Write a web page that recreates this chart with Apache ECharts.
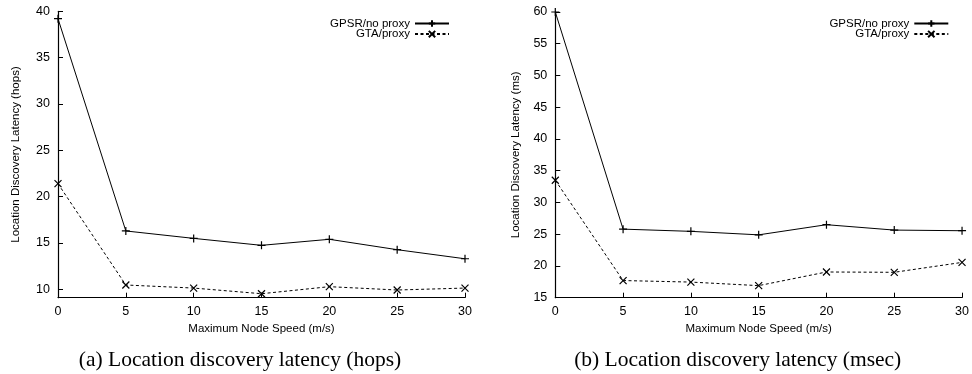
<!DOCTYPE html>
<html>
<head>
<meta charset="utf-8">
<script src="https://cdn.jsdelivr.net/npm/echarts@6/dist/echarts.min.js"></script>
<style>
html,body{margin:0;padding:0;background:#fff;}
#c{width:972px;height:374px;}
</style>
</head>
<body>
<div id="c"></div>
<script>
// Data
const speeds = [0, 5, 10, 15, 20, 25, 30];
const hopsGPSR = [39.2, 16.3, 15.5, 14.75, 15.4, 14.28, 13.3];
const hopsGTA = [21.4, 10.47, 10.14, 9.53, 10.29, 9.93, 10.14];
const msGPSR = [60, 25.8, 25.45, 24.9, 26.5, 25.65, 25.55];
const msGTA = [33.5, 17.7, 17.46, 16.9, 19.05, 19.0, 20.56];
const xTicks = [0, 5, 10, 15, 20, 25, 30];
const yTicksHops = [10, 15, 20, 25, 30, 35, 40];
const yTicksMs = [15, 20, 25, 30, 35, 40, 45, 50, 55, 60];
const seriesNames = ['GPSR/no proxy', 'GTA/proxy'];
const xTitle = 'Maximum Node Speed (m/s)';
const yTitleHops = 'Location Discovery Latency (hops)';
const yTitleMs = 'Location Discovery Latency (ms)';
const captions = ['(a) Location discovery latency (hops)', '(b) Location discovery latency (msec)'];

const FONT = 'Liberation Sans';
const plus = 'path://M0,5L10,5M5,0L5,10';
const cross = 'path://M0,0L10,10M10,0L0,10';

function xAxis(gi) {
  return {
    type: 'value', gridIndex: gi, min: 0, max: 30,
    name: xTitle, nameLocation: 'middle', nameGap: 24,
    nameTextStyle: {fontFamily: FONT, fontSize: 11.5, color: '#000'},
    axisLine: {show: true, lineStyle: {color: '#000', width: 1.2}},
    axisTick: {show: true, inside: true, length: 5, customValues: xTicks, lineStyle: {color: '#000'}},
    axisLabel: {fontFamily: FONT, fontSize: 12.5, color: '#000', margin: 7, customValues: xTicks},
    splitLine: {show: false}
  };
}
function yAxis(gi, min, max, ticks, title, gap) {
  return {
    type: 'value', gridIndex: gi, min: min, max: max,
    name: title, nameLocation: 'middle', nameGap: gap,
    nameTextStyle: {fontFamily: FONT, fontSize: 11.5, color: '#000'},
    axisLine: {show: true, lineStyle: {color: '#000', width: 1.2}},
    axisTick: {show: true, inside: true, length: 5, customValues: ticks, lineStyle: {color: '#000'}},
    axisLabel: {fontFamily: FONT, fontSize: 12.5, color: '#000', margin: 8, customValues: ticks},
    splitLine: {show: false}
  };
}
function pairs(vals) { return speeds.map((s, i) => [s, vals[i]]); }
function line(name, gi, vals, dashed) {
  return {
    name: name, type: 'line', xAxisIndex: gi, yAxisIndex: gi,
    data: pairs(vals),
    symbol: dashed ? cross : plus, symbolSize: dashed ? 7 : 8,
    showSymbol: true,
    lineStyle: {color: '#000', width: 1, type: dashed ? [3, 2.5] : 'solid'},
    itemStyle: {color: '#000', borderColor: '#000', borderWidth: 1.2},
    animation: false
  };
}
function legend(right, top) {
  return {
    orient: 'vertical', align: 'right', right: right, top: top,
    itemWidth: 34, itemHeight: 8, itemGap: -1.4, padding: 0,
    textStyle: {fontFamily: FONT, fontSize: 11.5, color: '#000'},
    data: seriesNames.map(n => ({name: n})),
    selectedMode: false
  };
}

const chart = echarts.init(document.getElementById('c'), null, {renderer: 'canvas'});
chart.setOption({
  backgroundColor: '#fff',
  animation: false,
  grid: [
    {left: 58, right: 507, top: 11.3, bottom: 76.3},
    {left: 555.3, right: 8.7, top: 12, bottom: 76.3}
  ],
  xAxis: [xAxis(0), xAxis(1)],
  yAxis: [yAxis(0, 9.1, 40, yTicksHops, yTitleHops, 36), yAxis(1, 15, 60, yTicksMs, yTitleMs, 33)],
  legend: [legend(522, 17.5), legend(22.7, 17.5)],
  series: [
    line(seriesNames[0], 0, hopsGPSR, false),
    line(seriesNames[1], 0, hopsGTA, true),
    line(seriesNames[0], 1, msGPSR, false),
    line(seriesNames[1], 1, msGTA, true)
  ],
  graphic: [
    {type: 'text', x: 240, y: 360, style: {text: captions[0], font: '21.5px "Liberation Serif"', fill: '#000', align: 'center', verticalAlign: 'middle'}},
    {type: 'text', x: 737.7, y: 360, style: {text: captions[1], font: '21.5px "Liberation Serif"', fill: '#000', align: 'center', verticalAlign: 'middle'}}
  ]
});
</script>
</body>
</html>
